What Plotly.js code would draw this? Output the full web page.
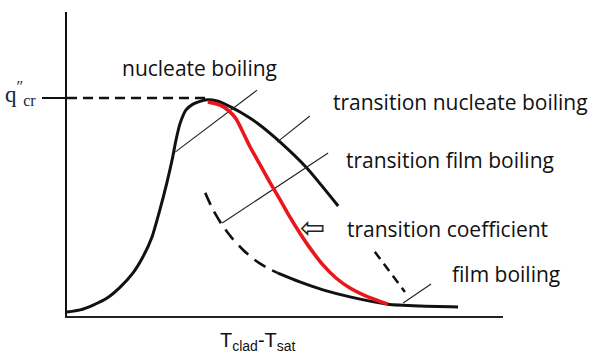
<!DOCTYPE html>
<html>
<head>
<meta charset="utf-8">
<script src="https://cdn.plot.ly/plotly-3.0.1.min.js"></script>
<style>html,body{margin:0;padding:0;background:#fff;}#chart{width:593px;height:353px;}</style>
</head>
<body>
<div id="chart"></div>
<script>
// Schematic boiling curve: x = wall superheat (T_clad - T_sat), y = heat flux (arbitrary units 0-100)
const qCritical = 71.7;
const peakX = 32.3;

const boilingX = [0, 3.0, 6.0, 9.2, 12.2, 15.1, 17.4, 19.5, 21.3, 22.9, 24.1, 25.0, 25.9, 27.3, 28.9, 30.7, 32.3, 34.4, 36.7, 39.7, 43.6, 48.9, 55.0, 62.2];
const boilingY = [1.3, 2.0, 3.6, 5.9, 9.5, 14.1, 19.4, 26.0, 34.9, 43.8, 51.3, 57.9, 63.2, 67.8, 69.7, 70.7, 71.1, 70.7, 69.4, 67.1, 63.5, 57.2, 48.7, 36.2];

const transitionX = [32.3, 35.1, 37.2, 38.8, 40.1, 42.0, 44.3, 46.6, 48.9, 51.1, 53.4, 55.7, 58.7, 61.7, 64.9, 69.0, 73.6];
const transitionY = [70.4, 69.4, 67.4, 64.8, 61.2, 55.6, 49.7, 43.8, 38.2, 32.6, 27.3, 22.4, 16.8, 12.5, 9.2, 6.3, 3.9];

const filmDashedX = [31.7, 33.5, 35.6, 37.8, 40.4, 43.1, 45.9, 48.4];
const filmDashedY = [40.5, 34.9, 29.9, 25.7, 21.7, 18.4, 15.8, 14.1];

const filmX = [48.4, 53.4, 58.7, 64.9, 73.6, 81.0, 89.7];
const filmY = [14.1, 11.2, 8.6, 6.3, 3.9, 3.3, 3.0];

const minFilmX = [70.6, 77.5];
const minFilmY = [21.1, 7.9];

// leader lines pointing to the labelled regions
const leaderNucleateX = [24.8, 43.6];
const leaderNucleateY = [53.9, 74.3];
const leaderTransNucX = [48.2, 55.7];
const leaderTransNucY = [57.2, 65.8];
const leaderTransFilmX = [35.6, 59.9];
const leaderTransFilmY = [30.6, 53.6];
const leaderFilmX = [77.1, 83.5];
const leaderFilmY = [4.3, 10.5];

const labels = ["nucleate boiling", "transition nucleate boiling", "transition film boiling", "transition coefficient", "film boiling"];
const labelX = [12.1, 60.5, 63.5, 63.7, 87.9];
const labelY = [81.6, 70.3, 51.3, 28.6, 13.8];

const arrowX = 56.4, arrowY = 29.0;

const blackLine = {color: '#111', width: 3};
const thin = {color: '#222', width: 1.1};

const traces = [
  {x: [0, peakX], y: [qCritical, qCritical], mode: 'lines', line: {color: '#111', width: 2.5, dash: '10px,6px'}},
  {x: boilingX, y: boilingY, mode: 'lines', line: Object.assign({shape: 'spline', smoothing: 0.6}, blackLine)},
  {x: filmDashedX, y: filmDashedY, mode: 'lines', line: {color: '#111', width: 2.6, dash: '13px,8px', shape: 'spline', smoothing: 0.6}},
  {x: filmX, y: filmY, mode: 'lines', line: Object.assign({shape: 'spline', smoothing: 0.6}, blackLine)},
  {x: minFilmX, y: minFilmY, mode: 'lines', line: {color: '#111', width: 2.5, dash: '9px,6px'}},
  {x: leaderNucleateX, y: leaderNucleateY, mode: 'lines', line: thin},
  {x: leaderTransNucX, y: leaderTransNucY, mode: 'lines', line: thin},
  {x: leaderTransFilmX, y: leaderTransFilmY, mode: 'lines', line: thin},
  {x: leaderFilmX, y: leaderFilmY, mode: 'lines', line: thin},
  {x: transitionX, y: transitionY, mode: 'lines', line: {color: 'rgb(234,22,28)', width: 3.6, shape: 'spline', smoothing: 0.6}}
];

const labelFont = {family: '"Open Sans", Lato, sans-serif', size: 21, color: '#111'};
const annotations = labels.map((t, i) => ({
  x: labelX[i], y: labelY[i], xref: 'x', yref: 'y', text: t, showarrow: false,
  xanchor: 'left', yanchor: 'middle', font: labelFont
}));
annotations.push({x: arrowX, y: arrowY, xref: 'x', yref: 'y', text: '⇦', showarrow: false,
  xanchor: 'center', yanchor: 'middle', font: {family: 'DejaVu Sans', size: 30, color: '#222'}});
annotations.push({x: 34.6, y: -0.084, xref: 'x', yref: 'paper', text: 'T<sub>clad</sub>-T<sub>sat</sub>', showarrow: false,
  xanchor: 'left', yanchor: 'middle', font: {family: '"Liberation Sans", Arial, sans-serif', size: 20, color: '#111'}});
annotations.push({x: -0.066, y: qCritical + 1.5, xref: 'paper', yref: 'y', text: 'q<sup>″</sup><sub>cr</sub>', showarrow: false,
  xanchor: 'right', yanchor: 'middle', font: {family: '"Liberation Serif", "Times New Roman", serif', size: 23, color: '#1a1f3a'}});

const layout = {
  width: 593, height: 353,
  margin: {l: 67, r: 90, t: 12, b: 37, pad: 0},
  paper_bgcolor: '#fff', plot_bgcolor: '#fff',
  showlegend: false,
  xaxis: {range: [0, 100], showline: true, linecolor: '#222', linewidth: 2, showgrid: false, zeroline: false,
    showticklabels: false, ticks: '', fixedrange: true},
  yaxis: {range: [0, 100], showline: true, linecolor: '#111', linewidth: 2, showgrid: false, zeroline: false,
    tickvals: [qCritical], ticktext: [''], ticks: 'outside', ticklen: 23, tickwidth: 2, tickcolor: '#111', fixedrange: true},
  annotations: annotations
};

Plotly.newPlot('chart', traces, layout, {displayModeBar: false, staticPlot: true});
</script>
</body>
</html>
